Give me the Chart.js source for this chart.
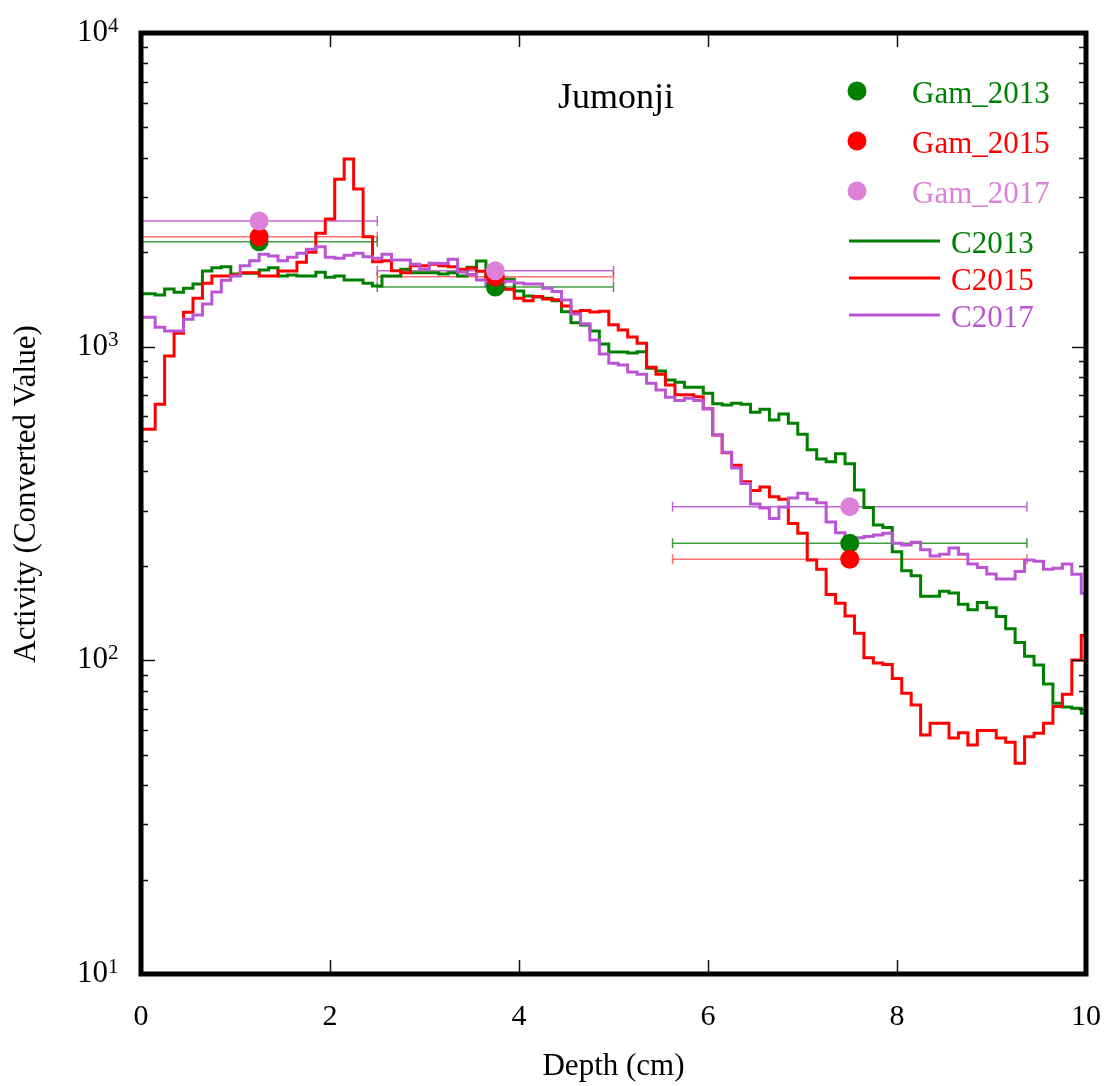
<!DOCTYPE html>
<html>
<head>
<meta charset="utf-8">
<title>Jumonji</title>
<script src="https://cdn.jsdelivr.net/npm/chart.js@4/dist/chart.umd.min.js"></script>
<style>
  html, body { margin: 0; padding: 0; background: #fff; }
  canvas { display: block; }
</style>
</head>
<body>
<canvas id="chart" width="1110" height="1086"></canvas>
<script>
// Depth bins (cm): one value every 0.1 cm from 0 to 10
const BIN_WIDTH = 0.1;
const depth = Array.from({ length: 101 }, (_, i) => +(i * BIN_WIDTH).toFixed(1));

// Converted activity profiles
const c2013 = [
  1475, 1475, 1460, 1528, 1490, 1535, 1585, 1742, 1786, 1799,
  1706, 1714, 1714, 1756, 1786, 1680, 1692, 1680, 1680, 1726,
  1664, 1680, 1632, 1632, 1592, 1562, 1680, 1680, 1765, 1722,
  1722, 1722, 1705, 1722, 1680, 1791, 1876, 1660, 1640, 1640,
  1505, 1451, 1440, 1427, 1400, 1293, 1192, 1172, 1122, 1020,
  962, 962, 955, 964, 853, 837, 783, 770, 742, 742,
  710, 658, 652, 660, 655, 618, 632, 584, 610, 570,
  526, 469, 438, 430, 456, 423, 349, 307, 270, 265,
  222, 193, 186, 160, 160, 166, 164, 151, 145, 153,
  147, 138, 126, 114, 103, 96.7, 84, 73, 71, 70.3,
  67.8
];
const c2015 = [
  545, 545, 655, 934, 1103, 1287, 1427, 1592, 1680, 1680,
  1692, 1722, 1722, 1680, 1680, 1742, 1742, 1858, 2000, 2299,
  2553, 3418, 3963, 3183, 2242, 1866, 1880, 1747, 1722, 1812,
  1812, 1831, 1812, 1799, 1765, 1778, 1740, 1640, 1540, 1524,
  1427, 1400, 1445, 1420, 1412, 1349, 1293, 1305, 1290, 1296,
  1175, 1130, 1074, 1025, 860, 817, 755, 702, 702, 692,
  634, 523, 459, 419, 371, 348, 357, 332, 326, 273,
  254, 209, 195, 162, 152, 138.5, 122, 102, 98, 97,
  87.5, 78.5, 72.1, 57.8, 63, 63, 56.5, 58.8, 53.7, 59.7,
  59.7, 56.5, 54.8, 47, 57.1, 58.6, 63, 71.2, 78, 100.3,
  120
];
const c2017 = [
  1241, 1241, 1153, 1122, 1122, 1223, 1262, 1368, 1494, 1628,
  1680, 1812, 1880, 1970, 1945, 1880, 1927, 1985, 2044, 2084,
  1927, 1913, 1956, 1985, 1936, 1913, 1970, 1890, 1890, 1831,
  1765, 1845, 1840, 1900, 1730, 1700, 1632, 1560, 1600, 1616,
  1596, 1585, 1585, 1535, 1500, 1409, 1271, 1184, 1050, 948,
  885, 874, 830, 817, 764, 728, 690, 673, 685, 673,
  634, 523, 461, 410, 366, 315, 306, 283, 308, 329,
  341, 326, 318, 276, 255, 245, 246, 248, 251, 254,
  236, 233, 238, 225, 215, 218, 228, 218, 203, 197.5,
  188.6, 181.7, 181.7, 192, 209, 207, 195, 196.5, 203, 188,
  163.6
];

// Gamma measurements: depth centre, half-width of the layer, activity
const gamDepth = [1.25, 3.75, 7.5];
const gamDepthErr = [1.25, 1.25, 1.875];
const gam2013 = [2160, 1550, 236];
const gam2015 = [2240, 1670, 210];
const gam2017 = [2515, 1745, 309];

// Axis ticks
const xTickValues = [2, 4, 6, 8];
const yDecades = [1, 2, 3, 4];

const GREEN = '#008000';
const RED = '#ff0000';
const PURPLE = '#ba55d3';
const ORCHID = '#dc80d8';
const SERIF = "'Liberation Serif', 'Times New Roman', Times, serif";

const toPoints = (xs, ys) => xs.map((x, i) => ({ x, y: ys[i] }));

function stepLine(label, values, color, order) {
  return {
    type: 'line', label, data: toPoints(depth, values),
    borderColor: color, backgroundColor: color, borderWidth: 3,
    stepped: 'middle', pointRadius: 0, fill: false, order
  };
}
function gamPoints(label, values, color, errColor, order) {
  return {
    type: 'scatter', label, data: toPoints(gamDepth, values),
    xErr: gamDepthErr, errColor,
    pointRadius: 9.5, pointHoverRadius: 9.5, borderWidth: 0,
    backgroundColor: color, pointBackgroundColor: color, order
  };
}

const legendItems = [
  { kind: 'dot', text: 'Gam_2013', color: GREEN, y: 91, base: 103 },
  { kind: 'dot', text: 'Gam_2015', color: RED, y: 141, base: 153 },
  { kind: 'dot', text: 'Gam_2017', color: ORCHID, y: 191, base: 203 },
  { kind: 'line', text: 'C2013', color: GREEN, y: 241, base: 253 },
  { kind: 'line', text: 'C2015', color: RED, y: 278, base: 290 },
  { kind: 'line', text: 'C2017', color: PURPLE, y: 315, base: 327 }
];

// Frame, inward tick marks, power-of-ten labels, error bars and the key
const decorations = {
  id: 'decorations',
  beforeDatasetsDraw(chart) {
    const { ctx, scales: { x, y } } = chart;
    ctx.save();
    ctx.lineWidth = 1.5;
    chart.data.datasets.forEach(ds => {
      if (!ds.xErr) return;
      ctx.strokeStyle = ds.errColor;
      ds.data.forEach((p, i) => {
        const py = y.getPixelForValue(p.y);
        const x0 = x.getPixelForValue(p.x - ds.xErr[i]);
        const x1 = x.getPixelForValue(p.x + ds.xErr[i]);
        ctx.beginPath();
        ctx.moveTo(x0, py); ctx.lineTo(x1, py);
        ctx.moveTo(x0, py - 5); ctx.lineTo(x0, py + 5);
        ctx.moveTo(x1, py - 5); ctx.lineTo(x1, py + 5);
        ctx.stroke();
      });
    });
    ctx.restore();
  },
  afterDraw(chart) {
    const { ctx, chartArea: a, scales: { x, y } } = chart;
    ctx.save();

    // tick marks pointing into the plot
    ctx.strokeStyle = '#111';
    ctx.lineWidth = 1.5;
    ctx.beginPath();
    xTickValues.forEach(v => {
      const px = Math.round(x.getPixelForValue(v)) + 0.5;
      ctx.moveTo(px, a.bottom); ctx.lineTo(px, a.bottom - 14);
      ctx.moveTo(px, a.top); ctx.lineTo(px, a.top + 14);
    });
    yDecades.forEach(p => {
      for (let m = 1; m <= 9; m++) {
        const v = m * Math.pow(10, p);
        if (v > 10000 || (p === 4 && m > 1)) continue;
        const py = Math.round(y.getPixelForValue(v)) + 0.5;
        const len = m === 1 ? 14 : 7;
        ctx.moveTo(a.left, py); ctx.lineTo(a.left + len, py);
        ctx.moveTo(a.right, py); ctx.lineTo(a.right - len, py);
      }
    });
    ctx.stroke();

    // frame
    ctx.strokeStyle = '#000';
    ctx.lineWidth = 5;
    ctx.strokeRect(a.left, a.top, a.right - a.left, a.bottom - a.top);

    // y labels as powers of ten
    ctx.fillStyle = '#000';
    ctx.textBaseline = 'alphabetic';
    yDecades.forEach(p => {
      const py = y.getPixelForValue(Math.pow(10, p));
      ctx.font = '31px ' + SERIF;
      ctx.textAlign = 'right';
      ctx.fillText('10', 108, py + 8);
      ctx.font = '21px ' + SERIF;
      ctx.textAlign = 'left';
      ctx.fillText(String(p), 108, py - 1);
    });

    // y axis title
    ctx.save();
    ctx.translate(27, 494);
    ctx.rotate(-Math.PI / 2);
    ctx.font = '31px ' + SERIF;
    ctx.textAlign = 'center';
    ctx.textBaseline = 'middle';
    ctx.fillText('Activity (Converted Value)', 0, 0);
    ctx.restore();

    // site name
    ctx.font = '36px ' + SERIF;
    ctx.textAlign = 'left';
    ctx.textBaseline = 'alphabetic';
    ctx.fillStyle = '#000';
    ctx.fillText('Jumonji', 558, 108);

    // key
    legendItems.forEach(it => {
      ctx.fillStyle = it.color;
      ctx.strokeStyle = it.color;
      if (it.kind === 'dot') {
        ctx.beginPath();
        ctx.arc(857, it.y, 9.5, 0, Math.PI * 2);
        ctx.fill();
        ctx.font = '31px ' + SERIF;
        ctx.fillText(it.text, 912, it.base);
      } else {
        ctx.lineWidth = 3;
        ctx.beginPath();
        ctx.moveTo(849, it.y); ctx.lineTo(940, it.y);
        ctx.stroke();
        ctx.font = '31px ' + SERIF;
        ctx.fillText(it.text, 951, it.base);
      }
    });
    ctx.restore();
  }
};

new Chart(document.getElementById('chart'), {
  data: {
    datasets: [
      gamPoints('Gam_2017', gam2017, ORCHID, 'rgba(186,85,211,0.9)', 0),
      gamPoints('Gam_2015', gam2015, RED, 'rgba(255,0,0,0.55)', 1),
      gamPoints('Gam_2013', gam2013, GREEN, 'rgba(0,128,0,0.75)', 2),
      stepLine('C2017', c2017, PURPLE, 3),
      stepLine('C2015', c2015, RED, 4),
      stepLine('C2013', c2013, GREEN, 5)
    ]
  },
  options: {
    responsive: false,
    animation: false,
    devicePixelRatio: 1,
    layout: { padding: { top: 33, right: 24, left: 0, bottom: 0 } },
    plugins: { legend: { display: false }, tooltip: { enabled: false } },
    scales: {
      x: {
        type: 'linear', min: 0, max: 10,
        grid: { display: false, drawTicks: false },
        border: { display: false },
        ticks: {
          stepSize: 2, padding: 25, color: '#000',
          font: { family: SERIF, size: 30 },
          maxRotation: 0
        },
        title: {
          display: true, text: 'Depth (cm)', color: '#000',
          font: { family: SERIF, size: 31 },
          padding: { top: 0, bottom: 1 }
        },
        afterFit(scale) {
          scale.height = 112;
          scale.paddingLeft = 0;
          scale.paddingRight = 0;
        }
      },
      y: {
        type: 'logarithmic', min: 10, max: 10000,
        grid: { display: false, drawTicks: false },
        border: { display: false },
        ticks: { display: false },
        afterFit(scale) {
          scale.width = 141;
          scale.paddingTop = 0;
          scale.paddingBottom = 0;
        }
      }
    }
  },
  plugins: [decorations]
});
</script>
</body>
</html>
